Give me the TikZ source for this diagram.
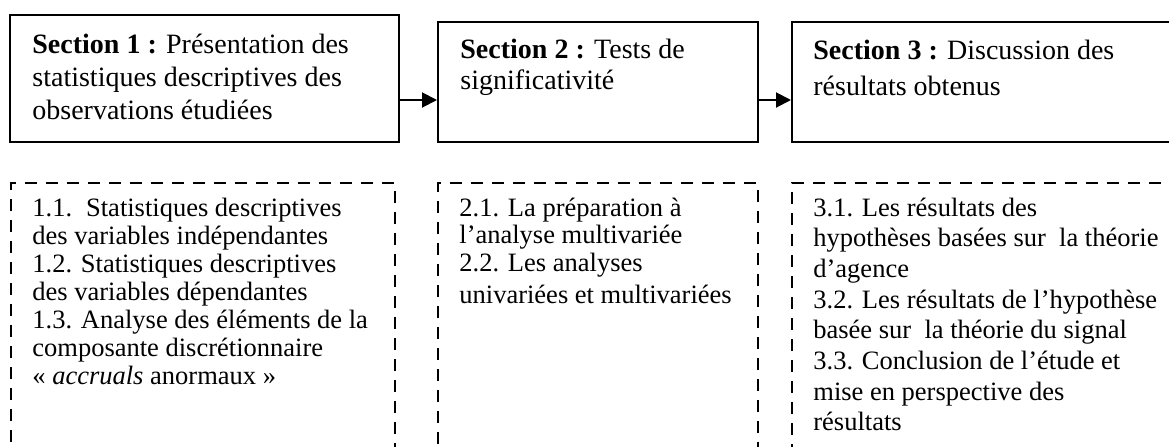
\documentclass[tikz,border=0pt]{standalone}
\usepackage{fontspec}
\setmainfont{Liberation Serif}
\usetikzlibrary{arrows.meta,fit}
\begin{document}
\begin{tikzpicture}[x=0.5pt,y=-0.5pt,
  secbox/.style={draw, line width=1pt, rectangle, inner sep=0pt},
  subbox/.style={draw, line width=0.9pt, rectangle, inner sep=0pt, dash pattern=on 6pt off 4.5pt},
  arr/.style={line width=1pt, -{Triangle[length=7.5pt,width=7.5pt]}},
  txt/.style={anchor=base west, inner sep=0pt},
  big/.style={font=\fontsize{14}{16.5}\selectfont},
  small/.style={font=\fontsize{13.25}{14}\selectfont}
]
\useasboundingbox (0,0) rectangle (1169,446);
\clip (0,0) rectangle (1169,446);

% section boxes
\node[secbox, fit={(10,15) (399,142)}] (b1) {};
\node[secbox, fit={(438,22) (758,142)}] (b2) {};
\node[secbox, fit={(792,22) (1190,142)}] (b3) {};

% dashed boxes
\node[subbox, fit={(11,183) (395,470)}] (d1) {};
\node[subbox, fit={(438,183) (758,470)}] (d2) {};
\node[subbox, fit={(792,183) (1190,470)}] (d3) {};

% arrows
\coordinate (ay) at (0,100);
\draw[arr] (b1.east |- ay) -- (b2.west |- ay);
\draw[arr] (b2.east |- ay) -- (b3.west |- ay);

% section texts
\node[txt, big] (t1) at (32,53) {\parbox[t]{200pt}{\textbf{Section 1 :} Présentation des\\
statistiques descriptives des\\
observations étudiées}};
\node[txt, font=\fontsize{14}{15.5}\selectfont] (t2) at (460,58) {\parbox[t]{160pt}{\textbf{Section 2 :} Tests de\\
significativité}};
\node[txt, font=\fontsize{14}{18}\selectfont] (t3) at (813,59) {\parbox[t]{190pt}{\textbf{Section 3 :} Discussion des\\
résultats obtenus}};

% sub texts
\node[txt, small] (s1) at (32,216) {\parbox[t]{200pt}{1.1.\hspace{7pt}Statistiques descriptives\\
des variables indépendantes\\
1.2. Statistiques descriptives\\
des variables dépendantes\\
1.3. Analyse des éléments de la\\
composante discrétionnaire\\
« \textit{accruals} anormaux »}};
\node[txt, font=\fontsize{13.25}{13.75}\selectfont] (s2) at (459,216) {\parbox[t]{170pt}{2.1. La préparation à\\
l’analyse multivariée\\
2.2. Les analyses\\[2.5pt]
univariées et multivariées}};
\node[txt, font=\fontsize{13.25}{15.35}\selectfont] (s3) at (813,216) {\parbox[t]{200pt}{3.1. Les résultats des\\
hypothèses basées sur\ \ la théorie\\
d’agence\\
3.2. Les résultats de l’hypothèse\\
basée sur\ \ la théorie du signal\\
3.3. Conclusion de l’étude et\\
mise en perspective des\\
résultats}};
\end{tikzpicture}
\end{document}
